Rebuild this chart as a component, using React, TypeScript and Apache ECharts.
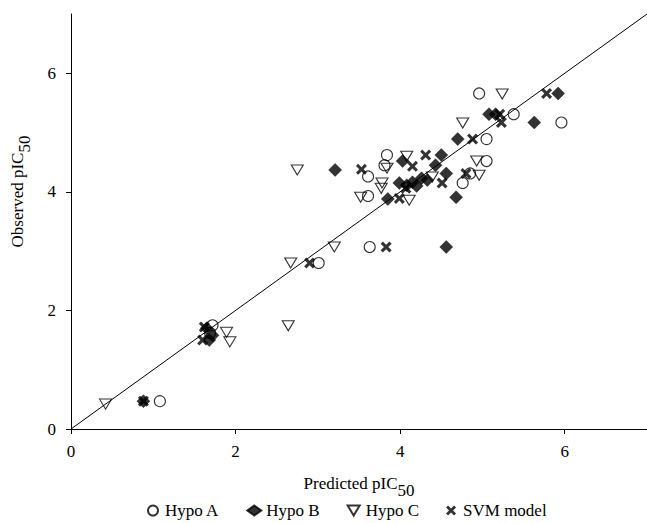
import React, { useEffect, useRef } from "react";
import * as echarts from "echarts";

// [predicted, observed]
const hypoA: number[][] = [
  [1.08, 0.47], [1.72, 1.75], [1.69, 1.62], [3.01, 2.8], [3.63, 3.07],
  [3.61, 4.26], [3.81, 4.45], [3.84, 4.62], [3.61, 3.93], [4.76, 4.15],
  [4.85, 4.31], [5.05, 4.52], [5.05, 4.89], [4.96, 5.66], [5.38, 5.31],
  [5.96, 5.17],
];
const hypoB: number[][] = [
  [0.88, 0.47], [1.68, 1.5], [1.65, 1.7], [1.72, 1.58], [3.21, 4.37],
  [4.56, 3.07], [3.85, 3.88], [3.99, 4.15], [4.08, 4.11], [4.15, 4.16],
  [4.26, 4.23], [4.33, 4.2], [4.03, 4.52], [4.5, 4.62], [4.43, 4.45],
  [4.56, 4.31], [4.68, 3.91], [4.7, 4.89], [5.08, 5.31], [5.16, 5.31],
  [5.63, 5.17], [5.92, 5.66], [4.2, 4.1],
];
const hypoC: number[][] = [
  [0.42, 0.42], [1.89, 1.63], [1.93, 1.47], [2.64, 1.74], [2.67, 2.8],
  [3.2, 3.07], [2.75, 4.37], [3.52, 3.91], [3.78, 4.15], [3.77, 4.06],
  [3.84, 4.4], [4.08, 4.6], [4.11, 3.86], [4.39, 4.25], [4.76, 5.16],
  [4.93, 4.52], [4.96, 4.28], [5.24, 5.65],
];
const svm: number[][] = [
  [0.88, 0.47], [1.6, 1.5], [1.62, 1.72], [2.9, 2.8], [3.83, 3.07],
  [3.53, 4.38], [4.15, 4.43], [4.31, 4.62], [3.99, 3.89], [4.51, 4.15],
  [4.8, 4.31], [4.88, 4.89], [5.23, 5.17], [5.21, 5.31], [5.78, 5.66],
  [4.07, 4.06],
];
const identityLine: number[][] = [[0, 0], [7, 7]];
const tickValues = [0, 2, 4, 6];
const seriesNames = ["Hypo A", "Hypo B", "Hypo C", "SVM model"];

const FONT = "'Liberation Serif', 'Times New Roman', serif";
const X_PATH =
  "path://M0,2 L2,0 L5,3 L8,0 L10,2 L7,5 L10,8 L8,10 L5,7 L2,10 L0,8 L3,5 Z";
const DOWN_TRI = "path://M0,0 L12,0 L6,10 Z";

export default function App() {
  const ref = useRef<HTMLDivElement>(null);
  useEffect(() => {
    if (!ref.current) return;
    const chart = echarts.init(ref.current, null, { renderer: "svg" });
    const nameRich = {
      m: { fontFamily: FONT, fontSize: 17, color: "#000" },
      s: { fontFamily: FONT, fontSize: 17, color: "#000", padding: [14, 0, 0, 0] },
    };
    const axisCommon = {
      type: "value" as const,
      min: 0,
      max: 7,
      interval: 2,
      axisLine: { show: true, lineStyle: { color: "#000", width: 1 } },
      axisTick: {
        show: true,
        length: 5,
        customValues: tickValues,
        lineStyle: { color: "#000", width: 1 },
      },
      splitLine: { show: false },
    };
    chart.setOption({
      animation: false,
      backgroundColor: "#fff",
      grid: { left: 71, right: 0, top: 14, bottom: 94, outerBoundsMode: "none" },
      legend: {
        data: [
          { name: seriesNames[0] },
          { name: seriesNames[1] },
          { name: seriesNames[2], icon: DOWN_TRI },
          { name: seriesNames[3] },
        ],
        left: 142,
        top: 497,
        itemWidth: 14,
        itemHeight: 10,
        itemGap: 27,
        textStyle: { fontFamily: FONT, fontSize: 17, color: "#000" },
      },
      xAxis: {
        ...axisCommon,
        axisLabel: {
          customValues: tickValues,
          fontFamily: FONT,
          fontSize: 17,
          color: "#000",
          margin: 14,
        },
        name: "{m|Predicted pIC}{s|50}",
        nameLocation: "middle",
        nameGap: 39,
        nameTextStyle: { rich: nameRich },
      },
      yAxis: {
        ...axisCommon,
        axisLabel: {
          customValues: tickValues,
          fontFamily: FONT,
          fontSize: 17,
          color: "#000",
          margin: 15,
        },
        name: "{m|Observed pIC}{s|50}",
        nameLocation: "middle",
        nameGap: 38,
        nameTextStyle: { rich: nameRich, padding: [0, 0, 0, 60] },
      },
      series: [
        {
          type: "line",
          data: identityLine,
          symbol: "none",
          silent: true,
          lineStyle: { color: "#000", width: 1 },
          z: 1,
        },
        {
          name: "Hypo A",
          type: "scatter",
          data: hypoA,
          symbol: "circle",
          symbolSize: 11,
          itemStyle: { color: "rgba(255,255,255,0)", borderColor: "#000", borderWidth: 1.1 },
        },
        {
          name: "Hypo B",
          type: "scatter",
          data: hypoB,
          symbol: "diamond",
          symbolSize: 13,
          itemStyle: { color: "#000", borderColor: "#000", borderWidth: 0.5 },
        },
        {
          name: "Hypo C",
          type: "scatter",
          data: hypoC,
          symbol: "triangle",
          symbolRotate: 180,
          symbolSize: [12, 10],
          itemStyle: { color: "rgba(255,255,255,0)", borderColor: "#000", borderWidth: 1.1 },
        },
        {
          name: "SVM model",
          type: "scatter",
          data: svm,
          symbol: X_PATH,
          symbolSize: 11,
          itemStyle: { color: "#000" },
        },
      ],
    });
    return () => chart.dispose();
  }, []);
  return (
    <div
      ref={ref}
      style={{ position: "absolute", left: 0, top: 0, width: 647, height: 523 }}
    />
  );
}
